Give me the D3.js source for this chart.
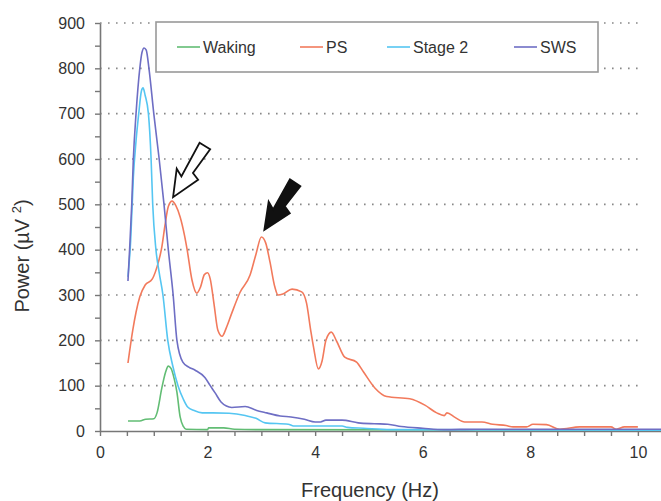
<!DOCTYPE html>
<html>
<head>
<meta charset="utf-8">
<script src="https://cdn.jsdelivr.net/npm/d3@7"></script>
<style>
  body { margin: 0; background: #fff; }
  text { font-family: "Liberation Sans", Arial, sans-serif; fill: #333; }
</style>
</head>
<body>
<div id="graph"></div>
<script>
// series values, [frequency Hz, power uV^2]
var wakingData = [[0.52,22],[0.74,22],[0.85,26],[1.0,27],[1.06,40],[1.15,95],[1.22,130],[1.27,143],
  [1.32,138],[1.38,115],[1.43,86],[1.49,31],[1.55,10],[1.6,4],[2.0,3],[2.02,7],[2.3,7],[2.5,4],
  [3.0,3],[10.43,2]];

var psData = [[0.52,150],[0.61,223],[0.67,262],[0.74,296],[0.84,322],[0.97,335],[1.0,342],[1.06,362],
  [1.15,406],[1.21,455],[1.27,495],[1.34,507],[1.41,497],[1.49,472],[1.57,432],[1.62,400],[1.71,333],
  [1.8,304],[1.87,318],[1.94,345],[2.0,349],[2.05,335],[2.12,280],[2.19,223],[2.27,209],[2.35,228],
  [2.45,260],[2.6,305],[2.79,344],[2.9,390],[3.0,428],[3.08,415],[3.16,373],[3.25,318],[3.31,300],
  [3.4,302],[3.57,313],[3.75,307],[3.84,282],[3.92,220],[3.97,185],[4.06,137],[4.13,155],[4.2,200],
  [4.3,218],[4.4,198],[4.55,163],[4.77,152],[4.9,130],[5.11,95],[5.33,76],[5.76,71],[6.04,57],
  [6.26,40],[6.4,34],[6.45,40],[6.6,30],[6.78,20],[7.1,20],[7.3,15],[7.55,12],[7.68,9],[7.93,9],
  [8.05,15],[8.3,14],[8.55,4],[8.92,9],[9.5,9],[9.6,4],[9.75,9],[10,9]];

var stage2Data = [[0.52,340],[0.57,420],[0.62,560],[0.67,640],[0.72,700],[0.77,750],[0.8,757],[0.84,740],
  [0.9,700],[0.95,600],[0.98,500],[1.04,400],[1.1,350],[1.17,300],[1.26,200],[1.35,145],[1.45,100],
  [1.55,70],[1.63,53],[1.75,45],[1.9,40],[2.1,40],[2.4,39],[2.7,34],[2.9,28],[3.07,18],[3.5,15],
  [3.6,11],[4.5,11],[4.6,8],[4.9,6],[5.4,3],[10.43,2]];

var swsData = [[0.52,331],[0.55,400],[0.59,500],[0.62,600],[0.67,700],[0.74,800],[0.78,835],[0.82,845],
  [0.86,840],[0.91,800],[1.0,700],[1.1,600],[1.19,500],[1.27,400],[1.36,300],[1.43,200],[1.54,152],
  [1.65,141],[1.77,134],[1.95,118],[2.05,100],[2.14,84],[2.25,64],[2.35,55],[2.45,52],[2.7,54],
  [2.9,46],[3.1,40],[3.35,33],[3.55,31],[3.8,26],[4.0,20],[4.1,20],[4.2,24],[4.5,24],[4.8,18],
  [5.1,16],[5.35,15],[5.6,10],[6.0,6],[6.4,3],[7.0,4],[8,4],[9,4],[10.43,4]];

var seriesNames = ['Waking', 'PS', 'Stage 2', 'SWS'];
var seriesColors = ['#62bd74', '#f27a5c', '#55c6f2', '#6e6ec4'];
var seriesData = [wakingData, psData, stage2Data, swsData];

var xTicks = d3.range(0, 10.01, 0.5);
var yTicks = d3.range(0, 901, 50);
var gridValues = d3.range(100, 901, 100);

var width = 661, height = 501;
var svg = d3.select('#graph').append('svg').attr('width', width).attr('height', height);

var x = d3.scaleLinear().domain([0, 10.43]).range([100, 661]);
var y = d3.scaleLinear().domain([0, 900]).range([431, 23]);

// dotted grid
svg.append('g').selectAll('line').data(gridValues).enter().append('line')
  .attr('x1', x(0)).attr('x2', 643)
  .attr('y1', function(d){ return y(d); }).attr('y2', function(d){ return y(d); })
  .attr('stroke', '#888').attr('stroke-width', 1.6)
  .attr('stroke-dasharray', '1.6,6.4');

var xAxis = d3.axisBottom(x).tickValues(xTicks).tickSize(5).tickSizeOuter(0).tickPadding(11)
  .tickFormat(function(d){ return (d % 2 === 0) ? d : ''; });
var yAxis = d3.axisLeft(y).tickValues(yTicks).tickSize(5).tickSizeOuter(0).tickPadding(10)
  .tickFormat(function(d){ return (d % 100 === 0) ? d : ''; });

var gx = svg.append('g').attr('transform', 'translate(0,' + y(0) + ')').call(xAxis);
var gy = svg.append('g').attr('transform', 'translate(' + x(0) + ',0)').call(yAxis);
[gx, gy].forEach(function(g){
  g.select('.domain').attr('stroke', '#777').attr('stroke-width', 1.6);
  g.selectAll('.tick line').attr('stroke', '#777').attr('stroke-width', 1.4);
  g.selectAll('.tick text').attr('font-size', 16).attr('fill', '#333')
    .style('font-family', '"Liberation Sans", Arial, sans-serif');
});

// curves
var line = d3.line().x(function(d){ return x(d[0]); }).y(function(d){ return y(d[1]); })
  .curve(d3.curveMonotoneX);
svg.append('g').selectAll('path').data(seriesData).enter().append('path')
  .attr('d', line)
  .attr('fill', 'none')
  .attr('stroke', function(d, i){ return seriesColors[i]; })
  .attr('stroke-width', 1.6);

// lightning style arrows
var arrowShape = function(L){
  return [[0,0],[26,-12],[22,-4],[L,-6.5],[L,6],[31,4],[28,12]];
};
var drawArrow = function(tip, tail, fill){
  var dx = tail[0] - tip[0], dy = tail[1] - tip[1];
  var L = Math.sqrt(dx*dx + dy*dy);
  var ux = dx / L, uy = dy / L, vx = -uy, vy = ux;
  var pts = arrowShape(L).map(function(p){
    return [tip[0] + p[0]*ux + p[1]*vx, tip[1] + p[0]*uy + p[1]*vy];
  });
  svg.append('polygon')
    .attr('points', pts.map(function(p){ return p.join(','); }).join(' '))
    .attr('fill', fill).attr('stroke', '#111').attr('stroke-width', 1.8)
    .attr('stroke-linejoin', 'miter');
};
var tip1 = [x(1.34) + 1, y(507) - 4];
drawArrow(tip1, [tip1[0] + 32, tip1[1] - 51], '#fff');
var tip2 = [x(3.0) + 3, y(428) - 7];
drawArrow(tip2, [tip2[0] + 31, tip2[1] - 47], '#111');

// legend
var legend = svg.append('g');
legend.append('rect').attr('x', 156).attr('y', 22).attr('width', 442).attr('height', 50)
  .attr('fill', '#fff').attr('stroke', '#999').attr('stroke-width', 1.6);
var legendX = [177, 300, 387, 514];
var items = legend.selectAll('g.item').data(seriesNames).enter().append('g')
  .attr('transform', function(d, i){ return 'translate(' + legendX[i] + ',47)'; });
items.append('line').attr('x1', 0).attr('x2', 23).attr('y1', 0).attr('y2', 0)
  .attr('stroke', function(d, i){ return seriesColors[i]; }).attr('stroke-width', 1.6);
items.append('text').attr('x', 26).attr('y', 0).attr('dy', '0.35em')
  .attr('font-size', 16).text(function(d){ return d; });

// axis titles
svg.append('text').attr('x', 370).attr('y', 497).attr('text-anchor', 'middle')
  .attr('font-size', 20).text('Frequency (Hz)');
var yt = svg.append('text').attr('transform', 'translate(29,256) rotate(-90)')
  .attr('text-anchor', 'middle').attr('font-size', 20);
yt.append('tspan').text('Power (\u00b5V ');
yt.append('tspan').attr('font-size', 13).attr('dy', -8).text('2');
yt.append('tspan').attr('dy', 8).text(')');
</script>
</body>
</html>
